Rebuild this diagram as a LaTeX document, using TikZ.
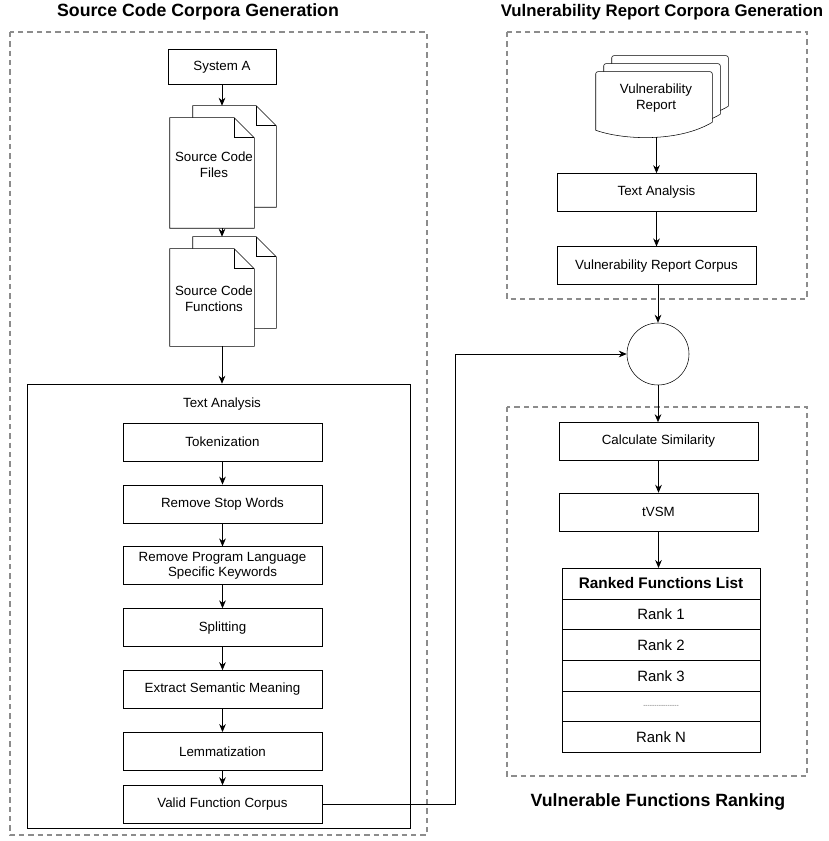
\documentclass[tikz,border=0pt]{standalone}
\usepackage{fontspec}
\setmainfont{Liberation Sans}
\usetikzlibrary{positioning, arrows.meta, calc}

% page with a folded corner, drawn round a node
\newcommand{\notepage}[1]{%
  \draw[fill=white] (#1.north west) -- ($(#1.north east)+(-20,0)$) -- ($(#1.north east)+(0,20)$)
    -- (#1.south east) -- (#1.south west) -- cycle;
  \draw ($(#1.north east)+(-20,0)$) -- ($(#1.north east)+(-20,20)$) -- ($(#1.north east)+(0,20)$);
}
% page with a wavy bottom, shifted by (#2,#3)
\newcommand{\wavepage}[3]{%
  \draw[fill=white] ($(#1.south west)+(#2,#3)$) [rounded corners=1.5pt] -- ($(#1.north west)+(#2,#3)$)
    -- ($(#1.north east)+(#2,#3)$) [sharp corners] -- ($(#1.south east)+(#2,#3-8)$)
    .. controls ($(#1.south)+(#2+25,#3+12)$) and ($(#1.south)+(#2-30,#3+10)$) .. ($(#1.south west)+(#2,#3)$) -- cycle;
}

\begin{document}
\begin{tikzpicture}[x=0.75pt, y=-0.75pt, >={Stealth[length=6pt,width=5pt]},
    every node/.style={font=\fontsize{10}{12}\selectfont},
    stepbox/.style={draw, minimum width=149.25pt, minimum height=28.5pt, inner sep=2pt, align=center},
    pagebox/.style={inner sep=0, minimum width=63pt},
    rankrow/.style={draw, minimum width=148.5pt, minimum height=23pt, inner sep=0, outer sep=0, font=\fontsize{11.2}{13}\selectfont},
    dashedbox/.style={draw=black!45, line width=0.9pt, dash pattern=on 4pt off 3pt},
    title/.style={font=\fontsize{13.3}{15}\selectfont\bfseries},
    arrow/.style={->, line width=0.6pt}]
    \useasboundingbox (0,0) rectangle (828,841);

    % groups
    \draw[dashedbox] (10,32) rectangle (427,835);
    \draw[dashedbox] (507,32) rectangle (807,299);
    \draw[dashedbox] (507,407) rectangle (807,776);
    \node[title] (srctitle) at (198,12) {Source Code Corpora Generation};
    \node[title, font=\fontsize{12.6}{15}\selectfont\bfseries] (reptitle) at (662,12) {Vulnerability Report Corpora Generation};
    \node[title] (ranktitle) at (658,802) {Vulnerable Functions Ranking};

    % source code side
    \node[draw, minimum width=81pt, minimum height=26pt] (sysA) at (222,67) {System A};
    \node[pagebox, minimum width=62.25pt, minimum height=75.75pt] (filesback) at (234.5,156.5) {};
    \node[pagebox, minimum height=82.5pt] (files) at (212,173) {};
    \notepage{filesback}
    \notepage{files}
    \node[align=center] (filestxt) at (214,165) {Source Code\\Files};
    \node[pagebox, minimum width=62.25pt, minimum height=68.25pt] (funcsback) at (234.5,282.5) {};
    \node[pagebox, minimum height=72.75pt] (funcs) at (212,297.5) {};
    \notepage{funcsback}
    \notepage{funcs}
    \node[align=center] (funcstxt) at (214,299) {Source Code\\Functions};

    \node[draw, minimum width=287.25pt, minimum height=333pt] (tabox) at (218.5,606) {};
    \node (talabel) at (222,404) {Text Analysis};
    \node[stepbox] (tok) at (222.5,442) {Tokenization};
    \node[stepbox, below=17.5pt of tok] (stop) {Remove Stop Words};
    \node[stepbox, below=17.5pt of stop] (keyw) {Remove Program Language\\[-1pt]Specific Keywords};
    \node[stepbox, below=17.5pt of keyw] (split) {Splitting};
    \node[stepbox, below=17.5pt of split] (sem) {Extract Semantic Meaning};
    \node[stepbox, below=17.5pt of sem] (lemma) {Lemmatization};
    \node[stepbox, below=11pt of lemma] (valid) {Valid Function Corpus};

    % report side
    \node[inner sep=0, minimum width=87pt, minimum height=43.5pt, align=center] (vrdoc) at (654,101) {};
    \wavepage{vrdoc}{16}{-16}
    \wavepage{vrdoc}{8}{-8}
    \wavepage{vrdoc}{0}{0}
    \node[align=center] (vrtxt) at (656,98) {Vulnerability\\Report};
    \node[stepbox] (ta2) at (656.5,192.5) {Text Analysis};
    \node[stepbox, below=26pt of ta2] (vrcorp) {Vulnerability Report Corpus};
    \node[draw, circle, minimum size=46.5pt, inner sep=0] (hub) at (658,354) {};
    \coordinate (bend) at (455,354);

    % ranking side
    \node[stepbox] (calc) at (658.5,441.5) {Calculate Similarity};
    \node[stepbox, below=24pt of calc] (tvsm) {tVSM};
    \node[rankrow, minimum height=23.25pt, font=\fontsize{11.5}{13}\selectfont\bfseries] (rankhead) at (661,583.5) {Ranked Functions List};
    \node[rankrow, below=0pt of rankhead] (rank1) {Rank 1};
    \node[rankrow, below=0pt of rank1] (rank2) {Rank 2};
    \node[rankrow, below=0pt of rank2] (rank3) {Rank 3};
    \node[rankrow, below=0pt of rank3, font=\fontsize{5}{6}\selectfont, text=black!60] (rankdots) {{-}{-}{-}{-}{-}{-}{-}{-}{-}{-}{-}{-}{-}{-}{-}{-}};
    \node[rankrow, below=0pt of rankdots] (rankN) {Rank N};

    % connectors
    \draw[arrow] (sysA) -- (sysA |- filesback.north);
    \draw[arrow] (sysA |- files.south) -- (sysA |- funcsback.north);
    \draw[arrow] (sysA |- funcs.south) -- (sysA |- tabox.north);
    \draw[arrow] (tok) -- (stop);
    \draw[arrow] (stop) -- (keyw);
    \draw[arrow] (keyw) -- (split);
    \draw[arrow] (split) -- (sem);
    \draw[arrow] (sem) -- (lemma);
    \draw[arrow] (lemma) -- (valid);
    \draw[arrow] (valid.east) -| (bend) -- (hub.west);
    \draw[arrow, shorten <=5pt] (ta2 |- vrdoc.south) -- (ta2);
    \draw[arrow] (ta2) -- (vrcorp);
    \draw[arrow] (hub |- vrcorp.south) -- (hub.north);
    \draw[arrow] (hub.south) -- (hub.south |- calc.north);
    \draw[arrow] (calc) -- (tvsm);
    \draw[arrow] (tvsm |- tvsm.south) -- (tvsm |- rankhead.north);
\end{tikzpicture}
\end{document}
